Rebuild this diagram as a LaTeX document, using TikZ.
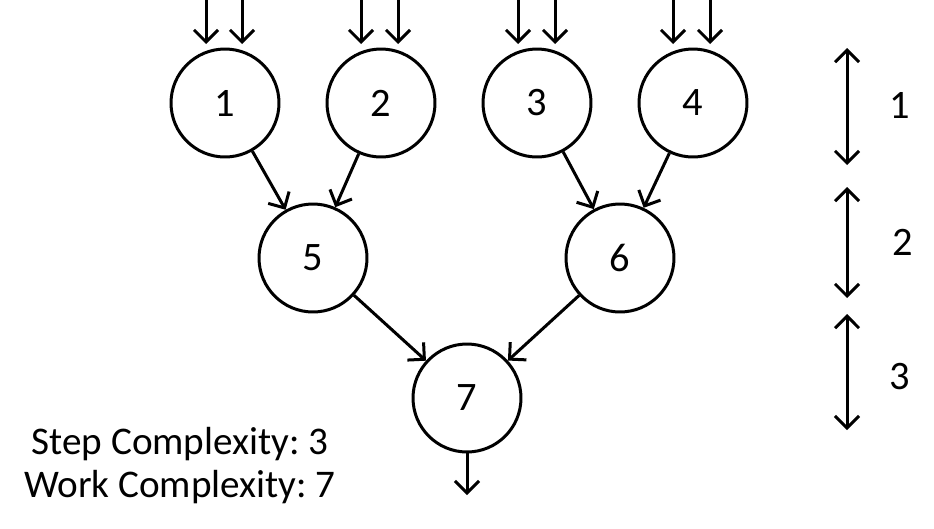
\documentclass[tikz,border=0pt]{standalone}
\usepackage{fontspec}
\setmainfont{Carlito}
\frenchspacing
\usetikzlibrary{arrows.meta}

\begin{document}
\begin{tikzpicture}[
    x=0.02cm, y=-0.02cm,
    % Node styles
    opnode/.style={
        circle, draw=black, fill=white, line width=0.06cm,
        minimum size=2.16cm, inner sep=0pt,
        font=\fontsize{23}{27}\selectfont
    },
    levellabel/.style={
        font=\fontsize{23}{27}\selectfont
    },
    costlabel/.style={
        anchor=base, font=\fontsize{22.3}{26}\selectfont
    },
    % Edge styles
    flow/.style={
        -{Straight Barb[length=0.24cm, width=0.48cm, line width=0.06cm]},
        line width=0.06cm, black
    },
    span/.style={
        {Straight Barb[length=0.24cm, width=0.48cm, line width=0.06cm]}-{Straight Barb[length=0.24cm, width=0.48cm, line width=0.06cm]},
        line width=0.06cm, black
    }
]
\useasboundingbox (0,0) rectangle (934,528);

% ============ NODES ============
\node[opnode] (n1) at (225,103) {1};
\node[opnode] (n2) at (381,103) {2};
\node[opnode] (n3) at (537,103) {3};
\node[opnode] (n4) at (693,103) {4};
\node[opnode] (n5) at (313,258) {5};
\node[opnode] (n6) at (620,258) {6};
\node[opnode] (n7) at (467,398) {7};

% ============ INPUTS ============
\coordinate (in1a) at (206,0);
\coordinate (in1b) at (242,0);
\coordinate (in2a) at (361,0);
\coordinate (in2b) at (398,0);
\coordinate (in3a) at (518,0);
\coordinate (in3b) at (555,0);
\coordinate (in4a) at (673,0);
\coordinate (in4b) at (710,0);
\foreach \n in {1,2,3,4}{
    \draw[flow, shorten >=2pt] (in\n a) -- (in\n a |- n\n.north);
    \draw[flow, shorten >=2pt] (in\n b) -- (in\n b |- n\n.north);
}

% ============ EDGES ============
\draw[flow] (n1) -- (n5);
\draw[flow] (n2) -- (n5);
\draw[flow] (n3) -- (n6);
\draw[flow] (n4) -- (n6);
\draw[flow] (n5) -- (n7);
\draw[flow] (n6) -- (n7);

% output
\coordinate (out7) at (467,495);
\draw[flow] (n7) -- (out7);

% ============ LEVELS ============
\coordinate (lv1t) at (847,48);
\coordinate (lv1b) at (847,165);
\coordinate (lv2t) at (847,187);
\coordinate (lv2b) at (847,298);
\coordinate (lv3t) at (847,314);
\coordinate (lv3b) at (847,430);
\draw[span] (lv1t) -- (lv1b);
\draw[span] (lv2t) -- (lv2b);
\draw[span] (lv3t) -- (lv3b);

\node[levellabel] (lab1) at (900,105) {1};
\node[levellabel] (lab2) at (903,242) {2};
\node[levellabel] (lab3) at (900,377) {3};

% ============ COMPLEXITY ============
\node[costlabel] (step) at (180,454) {Step Complexity: 3};
\node[costlabel] (work) at (180,497) {Work Complexity: 7};

\end{tikzpicture}
\end{document}
